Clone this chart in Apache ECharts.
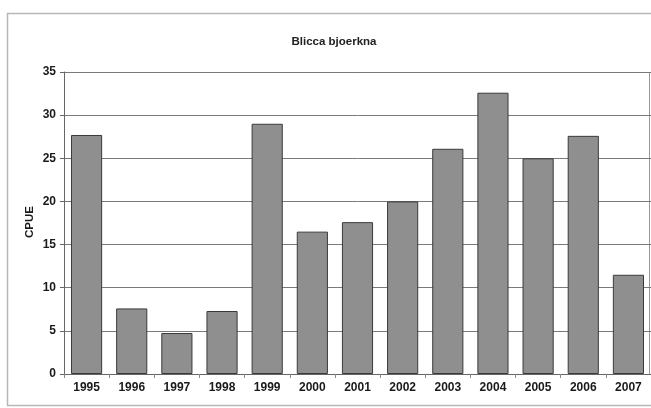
<!DOCTYPE html>
<html>
<head>
<meta charset="utf-8">
<script src="https://cdn.jsdelivr.net/npm/echarts@6/dist/echarts.min.js"></script>
<style>
  html, body { margin: 0; padding: 0; background: #fff; }
  #chart { width: 651px; height: 408px; }
</style>
</head>
<body>
<div id="chart"></div>
<script>
// Catch per unit effort by year
const years = ['1995', '1996', '1997', '1998', '1999', '2000', '2001',
               '2002', '2003', '2004', '2005', '2006', '2007'];
const cpue = [27.7, 7.6, 4.75, 7.3, 29.0, 16.5, 17.6, 20.0, 26.1, 32.6, 25.0, 27.6, 11.5];
const yTicks = [0, 5, 10, 15, 20, 25, 30, 35];
const yTitle = 'CPUE';

const chart = echarts.init(document.getElementById('chart'));
const font = 'Liberation Sans, Arial, sans-serif';

chart.setOption({
  animation: false,
  backgroundColor: '#fff',
  title: {
    text: 'Blicca bjoerkna',
    left: 329,
    top: 31,
    textAlign: 'center',
    textStyle: { fontFamily: font, fontSize: 11.5, fontWeight: 'bold', color: '#222' }
  },
  graphic: [{
    type: 'rect',
    shape: { x: 7.5, y: 13.5, width: 660, height: 392 },
    style: { fill: 'none', stroke: '#b8b8b8', lineWidth: 1.5 },
    z: 0
  }, {
    type: 'rect',
    shape: { x: 64.5, y: 72.5, width: 585, height: 302 },
    style: { fill: 'none', stroke: '#999', lineWidth: 1 },
    z: 0
  }, {
    // vertical axis title, left of the tick labels
    type: 'text',
    x: 30,
    y: 222,
    rotation: Math.PI / 2,
    style: {
      text: yTitle,
      fontFamily: font, fontSize: 11.5, fontWeight: 'bold', fill: '#1a1a1a',
      textAlign: 'center', textVerticalAlign: 'middle'
    }
  }],
  grid: { left: 64, right: 0, top: 72, bottom: 34 },
  xAxis: {
    type: 'category',
    data: years,
    axisLine: { lineStyle: { color: '#666' } },
    axisTick: { show: true, length: 4, lineStyle: { color: '#888' } },
    axisLabel: { fontFamily: font, fontSize: 12, fontWeight: 'bold', color: '#1a1a1a', margin: 8 }
  },
  yAxis: {
    type: 'value',
    min: yTicks[0],
    max: yTicks[yTicks.length - 1],
    interval: 5,
    axisLine: { show: true, lineStyle: { color: '#666' } },
    axisTick: { show: true, length: 4, lineStyle: { color: '#666' } },
    axisLabel: { fontFamily: font, fontSize: 12, fontWeight: 'bold', color: '#1a1a1a', margin: 8 },
    splitLine: { lineStyle: { color: '#7a7a7a', width: 1 } }
  },
  series: [{
    type: 'bar',
    data: cpue,
    barCategoryGap: '31%',
    itemStyle: { color: '#8f8f8f', borderColor: '#3a3a3a', borderWidth: 1 }
  }]
});
</script>
</body>
</html>
